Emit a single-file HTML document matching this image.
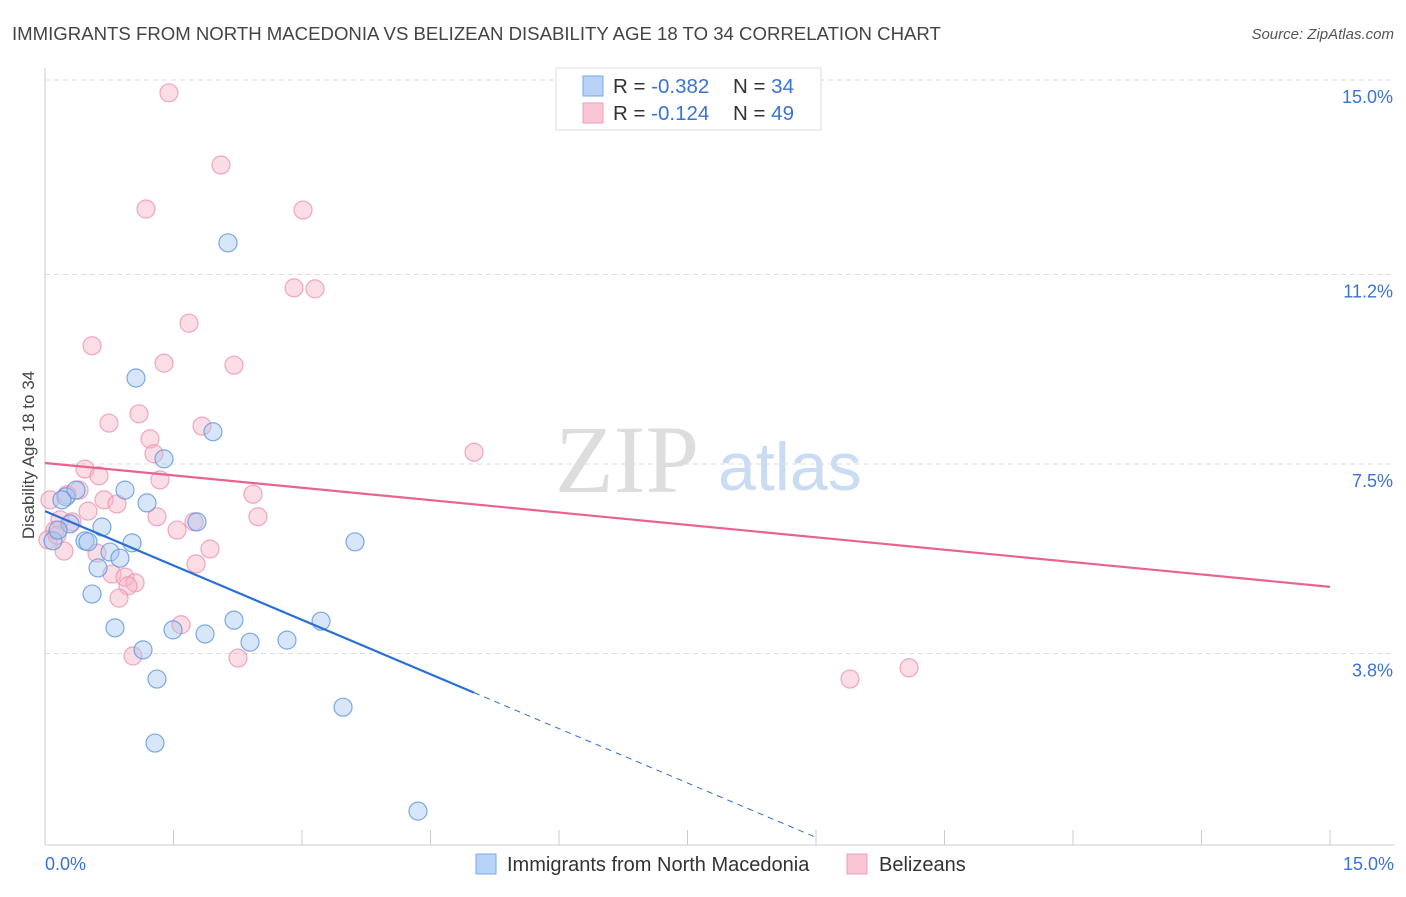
<!DOCTYPE html>
<html><head><meta charset="utf-8"><style>
body{margin:0;background:#fff;font-family:"Liberation Sans",sans-serif}
svg text{font-family:"Liberation Sans",sans-serif}
</style></head><body>
<svg id="chart" width="1406" height="892">
<text x="12" y="40" font-size="18.6" fill="#444">IMMIGRANTS FROM NORTH MACEDONIA VS BELIZEAN DISABILITY AGE 18 TO 34 CORRELATION CHART</text>
<text x="1394" y="39" font-size="15" fill="#555" font-style="italic" text-anchor="end">Source: ZipAtlas.com</text>
<text x="555" y="492" font-size="96" fill="#ddd" style="font-family:'Liberation Serif',serif">ZIP</text>
<text x="718" y="490" font-size="68" fill="#c9dcf3">atlas</text>
<g id="grid"></g>
<g id="marks"></g>
<text transform="translate(34,455) rotate(-90)" font-size="17" fill="#444" text-anchor="middle">Disability Age 18 to 34</text>
<text x="45" y="870" font-size="18" fill="#3b73d4">0.0%</text>
<text x="1394" y="870" font-size="18" fill="#3b73d4" text-anchor="end">15.0%</text>
<g>
<rect x="556" y="68" width="265" height="62" fill="#fff" stroke="#ddd"/>
<rect x="583" y="76" width="20" height="20" fill="#b8d3f7" stroke="#7aa7e8"/>
<rect x="583" y="103" width="20" height="20" fill="#fac5d5" stroke="#ef9fb8"/>
<text x="613" y="93" font-size="20.5" fill="#333">R = <tspan fill="#3b73d4">-0.382</tspan></text>
<text x="733" y="93" font-size="20.5" fill="#333">N = <tspan fill="#3b73d4">34</tspan></text>
<text x="613" y="120" font-size="20.5" fill="#333">R = <tspan fill="#3b73d4"> -0.124</tspan></text>
<text x="733" y="120" font-size="20.5" fill="#333">N = <tspan fill="#3b73d4">49</tspan></text>
</g>
<g>
<rect x="476" y="854" width="20" height="20" fill="#b8d3f7" stroke="#7aa7e8"/>
<text x="507" y="871" font-size="20" fill="#333">Immigrants from North Macedonia</text>
<rect x="847" y="854" width="20" height="20" fill="#fac5d5" stroke="#ef9fb8"/>
<text x="879" y="871" font-size="20" fill="#333">Belizeans</text>
</g>
</svg>
<script>
const yTicks=[15.0,11.2,7.5,3.8];
const yTickLabels=["15.0%","11.2%","7.5%","3.8%"];
const blueX=[2.136,1.062,1.961,1.389,0.934,1.191,0.245,0.362,1.774,0.665,0.292,0.093,0.467,1.016,0.759,0.875,0.619,3.619,0.549,0.817,1.494,1.868,2.206,2.393,2.825,3.222,1.144,1.307,3.479,1.284,4.354,0.152,0.198,0.502];
const blueY=[11.82,9.18,8.13,7.60,6.99,6.74,6.86,6.99,6.37,6.27,6.33,6.00,6.00,5.96,5.78,5.66,5.47,5.98,4.96,4.30,4.26,4.18,4.45,4.02,4.06,4.43,3.87,3.30,2.75,2.05,0.72,6.21,6.80,5.98];
const pinkX=[1.447,2.054,1.179,3.012,2.907,3.152,1.681,0.549,1.389,2.206,1.097,0.747,1.833,1.226,1.272,5.008,0.467,1.342,0.630,0.397,0.257,2.428,0.689,0.840,0.502,1.307,2.486,1.739,1.541,0.175,0.117,0.315,1.926,0.222,0.607,1.763,0.782,0.934,1.051,0.969,0.864,1.588,1.027,2.253,9.397,10.086,0.058,0.035,0.140];
const pinkY=[14.75,13.34,12.48,12.46,10.94,10.92,10.25,9.81,9.47,9.43,8.48,8.30,8.24,7.99,7.70,7.73,7.40,7.19,7.27,6.99,6.90,6.91,6.80,6.72,6.58,6.47,6.47,6.37,6.21,6.41,6.21,6.37,5.84,5.80,5.76,5.55,5.35,5.29,5.18,5.12,4.88,4.36,3.75,3.71,3.30,3.52,6.80,6.02,6.11];
const blueTrend=[6.58,-0.708];
const pinkTrend=[7.52,-0.1613];
const X0=45,X1=1330,Y0=848,Ymax=80;
const sx=v=>X0+(X1-X0)*v/15;
const sy=v=>Y0-(Y0-Ymax)*v/15;
const NS="http://www.w3.org/2000/svg";
function mk(t,a,p){const e=document.createElementNS(NS,t);for(const k in a)e.setAttribute(k,a[k]);p.appendChild(e);return e;}
const grid=document.getElementById('grid'),marks=document.getElementById('marks');
yTicks.forEach((v,i)=>{
  const l=mk('line',{x1:45,x2:1394,y1:sy(v),y2:sy(v),stroke:'#ddd','stroke-dasharray':'5,4'},grid);
  
  
  const t=mk('text',{x:1393,y:sy(v)+23,'font-size':18,fill:'#3b73d4','text-anchor':'end'},grid);
  t.textContent=yTickLabels[i];
  
  
});
const ax=mk('line',{x1:45,x2:1394,y1:845,y2:845,stroke:'#ccc'},grid);


const ay=mk('line',{x1:45,x2:45,y1:68,y2:845,stroke:'#ccc'},grid);


for(let i=0;i<=10;i++){
  const xx=sx(i*1.5);
  const tk=mk('line',{x1:xx,x2:xx,y1:830,y2:845,stroke:'#ccc'},grid);
  
  
}
function dots(xs,ys,fill,stroke,name){
  xs.forEach((x,i)=>{
    const c=mk('circle',{cx:sx(x),cy:sy(ys[i]),r:9,fill:fill,'fill-opacity':0.45,stroke:stroke,'stroke-width':1.2,'stroke-opacity':0.8},marks);
    
    
  });
}
dots(pinkX,pinkY,'#f7b3c7','#ec94b0','belizean-point');
dots(blueX,blueY,'#a8c8f2','#5f95df','macedonia-point');
const pl=mk('line',{x1:sx(0),y1:sy(pinkTrend[0]),x2:sx(15),y2:sy(pinkTrend[0]+pinkTrend[1]*15),stroke:'#e8638f','stroke-width':2.2},marks);


const xZero=-blueTrend[0]/blueTrend[1];
const bl=mk('line',{x1:sx(0),y1:sy(blueTrend[0]),x2:sx(5.008),y2:sy(blueTrend[0]+blueTrend[1]*5.008),stroke:'#2a6fd6','stroke-width':2.2},marks);


const bd=mk('line',{x1:sx(5.008),y1:sy(blueTrend[0]+blueTrend[1]*5.008),x2:sx(xZero-0.3),y2:sy(blueTrend[0]+blueTrend[1]*(xZero-0.3)),stroke:'#2a6fd6','stroke-width':1,'stroke-dasharray':'6,5'},marks);


</script>
</body></html>
